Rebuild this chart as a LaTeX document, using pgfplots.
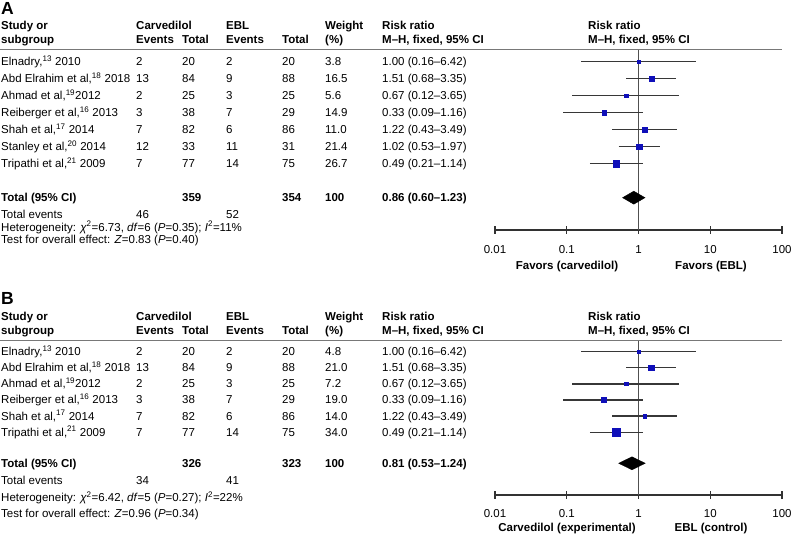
\documentclass[border=0pt]{standalone}
\usepackage{pgfplots}
\pgfplotsset{compat=1.18}
\usepackage{fontspec}
\setmainfont{Liberation Sans}
\definecolor{sq}{RGB}{15,15,185}
\definecolor{ci}{RGB}{55,55,55}
\definecolor{vl}{RGB}{80,80,80}
\definecolor{ax}{RGB}{50,50,50}
\definecolor{rule}{RGB}{120,120,120}
\newcommand\fs{\fontsize{11.5bp}{14bp}\selectfont}
\newcommand\su[1]{\textsuperscript{#1}}
% row of table text: baseline y, study, carv events, carv total, ebl events, ebl total, weight, rr
\newcommand\R[8]{%
  \node[tx] at (1,#1) {#2};
  \node[tx] at (136,#1) {#3};
  \node[tx] at (182,#1) {#4};
  \node[tx] at (226,#1) {#5};
  \node[tx] at (282,#1) {#6};
  \node[tx] at (325,#1) {#7};
  \node[tx] at (382,#1) {#8};}
% forest row: y, estimate, lower, upper, half side of square
\newcommand\F[5]{%
  \addplot[ci, line width=1.3pt] coordinates {(#3,#1) (#4,#1)};
  \addplot[only marks, mark=square*, mark size=#5, mark options={draw=sq, fill=sq}] coordinates {(#2,#1)};}
\pgfplotsset{/pgfplots/fplot/.style={
  scale only axis, width=287bp, xmin=0.01, xmax=100,
  axis x line=bottom, axis y line=none,
  x axis line style={-, line width=1.2pt, color=ax},
  xtick={0.01,0.1,1,10,100}, xticklabels={0.01,0.1,1,10,100},
  xminorticks=false, xtick align=center, major tick length=8bp,
  tick style={line width=1.2pt, color=ax},
  clip=false,
  xticklabel style={font=\fs, anchor=base, text=black}}}
\begin{document}
\begin{tikzpicture}[x=1bp, y=1bp, font=\fs, tx/.style={anchor=base west, inner sep=0pt}]
\path[use as bounding box] (0,0) rectangle (792,534);
\begin{scope}[yshift=534bp, y=-1bp]
% ================= Panel A =================
\node[tx, font=\fontsize{17.5bp}{20bp}\selectfont\bfseries] at (1,15) {A};
\begin{scope}[font=\fs\bfseries]
\node[tx] at (1,30) {Study or};
\node[tx] at (1,44) {subgroup};
\node[tx] at (136,30) {Carvedilol};
\node[tx] at (136,44) {Events};
\node[tx] at (182,44) {Total};
\node[tx] at (226,30) {EBL};
\node[tx] at (226,44) {Events};
\node[tx] at (282,44) {Total};
\node[tx] at (325,30) {Weight};
\node[tx] at (325,44) {(\%)};
\node[tx] at (382,30) {Risk ratio};
\node[tx] at (382,44) {M--H, fixed, 95\% CI};
\node[tx] at (588,30) {Risk ratio};
\node[tx] at (588,44) {M--H, fixed, 95\% CI};
\end{scope}
\draw[rule, line width=1pt] (0,50) -- (782,50);
\R{65.7}{Elnadry,\su{13} 2010}{2}{20}{2}{20}{3.8}{1.00 (0.16--6.42)}
\R{82.7}{Abd Elrahim et al,\su{18} 2018}{13}{84}{9}{88}{16.5}{1.51 (0.68--3.35)}
\R{99.7}{Ahmad et al,\su{19}2012}{2}{25}{3}{25}{5.6}{0.67 (0.12--3.65)}
\R{116.7}{Reiberger et al,\su{16} 2013}{3}{38}{7}{29}{14.9}{0.33 (0.09--1.16)}
\R{133.7}{Shah et al,\su{17} 2014}{7}{82}{6}{86}{11.0}{1.22 (0.43--3.49)}
\R{150.7}{Stanley et al,\su{20} 2014}{12}{33}{11}{31}{21.4}{1.02 (0.53--1.97)}
\R{167.7}{Tripathi et al,\su{21} 2009}{7}{77}{14}{75}{26.7}{0.49 (0.21--1.14)}
\begin{scope}[font=\fs\bfseries]
\node[tx] at (1,201.5) {Total (95\% CI)};
\node[tx] at (182,201.5) {359};
\node[tx] at (282,201.5) {354};
\node[tx] at (325,201.5) {100};
\node[tx] at (382,201.5) {0.86 (0.60--1.23)};
\end{scope}
\node[tx] at (1,219) {Total events};
\node[tx] at (136,219) {46};
\node[tx] at (226,219) {52};
\node[tx] at (1,231.3) {Heterogeneity: \textit{χ}\su{2}=6.73, \textit{df}=6 (\textit{P}=0.35); \textit{I}\su{2}=11\%};
\node[tx] at (1,244) {Test for overall effect: \textit{Z}=0.83 (\textit{P}=0.40)};
\node[anchor=base, inner sep=0pt, font=\fs\bfseries] at (567,269.7) {Favors (carvedilol)};
\node[anchor=base, inner sep=0pt, font=\fs\bfseries] at (711,269.7) {Favors (EBL)};
% ================= Panel B =================
\node[tx, font=\fontsize{17.5bp}{20bp}\selectfont\bfseries] at (1,305) {B};
\begin{scope}[font=\fs\bfseries]
\node[tx] at (1,320.7) {Study or};
\node[tx] at (1,335) {subgroup};
\node[tx] at (136,320.7) {Carvedilol};
\node[tx] at (136,335) {Events};
\node[tx] at (182,335) {Total};
\node[tx] at (226,320.7) {EBL};
\node[tx] at (226,335) {Events};
\node[tx] at (282,335) {Total};
\node[tx] at (325,320.7) {Weight};
\node[tx] at (325,335) {(\%)};
\node[tx] at (382,320.7) {Risk ratio};
\node[tx] at (382,335) {M--H, fixed, 95\% CI};
\node[tx] at (588,320.7) {Risk ratio};
\node[tx] at (588,335) {M--H, fixed, 95\% CI};
\end{scope}
\draw[rule, line width=1pt] (0,341) -- (782,341);
\R{355.7}{Elnadry,\su{13} 2010}{2}{20}{2}{20}{4.8}{1.00 (0.16--6.42)}
\R{371.8}{Abd Elrahim et al,\su{18} 2018}{13}{84}{9}{88}{21.0}{1.51 (0.68--3.35)}
\R{387.9}{Ahmad et al,\su{19}2012}{2}{25}{3}{25}{7.2}{0.67 (0.12--3.65)}
\R{404}{Reiberger et al,\su{16} 2013}{3}{38}{7}{29}{19.0}{0.33 (0.09--1.16)}
\R{420.1}{Shah et al,\su{17} 2014}{7}{82}{6}{86}{14.0}{1.22 (0.43--3.49)}
\R{436.2}{Tripathi et al,\su{21} 2009}{7}{77}{14}{75}{34.0}{0.49 (0.21--1.14)}
\begin{scope}[font=\fs\bfseries]
\node[tx] at (1,467.3) {Total (95\% CI)};
\node[tx] at (182,467.3) {326};
\node[tx] at (282,467.3) {323};
\node[tx] at (325,467.3) {100};
\node[tx] at (382,467.3) {0.81 (0.53--1.24)};
\end{scope}
\node[tx] at (1,485) {Total events};
\node[tx] at (136,485) {34};
\node[tx] at (226,485) {41};
\node[tx] at (1,501.7) {Heterogeneity: \textit{χ}\su{2}=6.42, \textit{df}=5 (\textit{P}=0.27); \textit{I}\su{2}=22\%};
\node[tx] at (1,517.3) {Test for overall effect: \textit{Z}=0.96 (\textit{P}=0.34)};
\node[anchor=base, inner sep=0pt, font=\fs\bfseries] at (567,532) {Carvedilol (experimental)};
\node[anchor=base, inner sep=0pt, font=\fs\bfseries] at (711,532) {EBL (control)};
\end{scope}
% ================= Axes =================
\begin{axis}[xmode=log, fplot, at={(495bp,304bp)}, anchor=south west, height=180bp,
  ymin=-230, ymax=-50, xticklabel style={yshift=-20bp}]
\addplot[vl, line width=1.1pt] coordinates {(1,-50) (1,-230)};
\F{-61.7}{1.00}{0.16}{6.42}{1.4}
\F{-78.7}{1.51}{0.68}{3.35}{2.4}
\F{-95.7}{0.67}{0.12}{3.65}{1.7}
\F{-112.7}{0.33}{0.09}{1.16}{2.1}
\F{-129.7}{1.22}{0.43}{3.49}{2.2}
\F{-146.7}{1.02}{0.53}{1.97}{2.7}
\F{-163.7}{0.49}{0.21}{1.14}{3.3}
\addplot[fill=black, draw=black] coordinates {(0.60,-197.7) (0.86,-191.2) (1.23,-197.7) (0.86,-204.2)} -- cycle;
\end{axis}
\begin{axis}[xmode=log, fplot, at={(495bp,39bp)}, anchor=south west, height=154bp,
  ymin=-495, ymax=-341, xticklabel style={yshift=-19bp}]
\addplot[vl, line width=1.1pt] coordinates {(1,-341) (1,-495)};
\F{-351.7}{1.00}{0.16}{6.42}{1.5}
\F{-367.8}{1.51}{0.68}{3.35}{2.7}
\F{-383.9}{0.67}{0.12}{3.65}{1.8}
\F{-400}{0.33}{0.09}{1.16}{2.5}
\F{-416.1}{1.22}{0.43}{3.49}{1.8}
\F{-432.2}{0.49}{0.21}{1.14}{3.8}
\addplot[fill=black, draw=black] coordinates {(0.53,-463.3) (0.81,-456.8) (1.24,-463.3) (0.81,-469.8)} -- cycle;
\end{axis}
\end{tikzpicture}
\end{document}
